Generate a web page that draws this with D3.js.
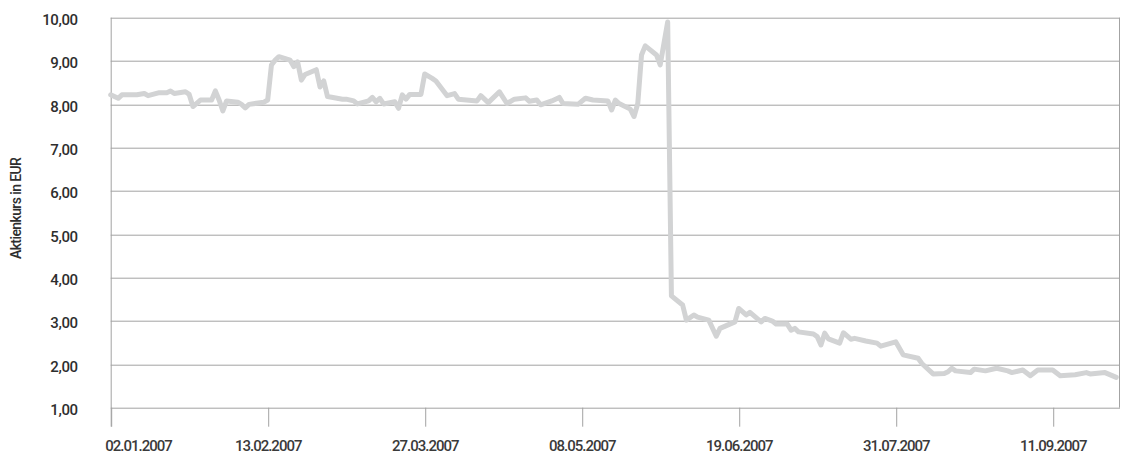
<!DOCTYPE html>
<html>
<head>
<meta charset="utf-8">
<script src="https://cdn.jsdelivr.net/npm/d3@7"></script>
<style>
	html, body {margin: 0; padding: 0; background: #fff;}
	svg {display: block;}
	svg text {font-family: Roboto, "Liberation Sans", sans-serif;}
</style>
</head>
<body>
<svg id="chart" width="1125" height="454"></svg>
<script>
// daily closing prices
const dates = [
	"02.01.2007", "04.01.2007", "05.01.2007", "09.01.2007", "11.01.2007", "12.01.2007", "15.01.2007", "17.01.2007",
	"18.01.2007", "19.01.2007", "22.01.2007", "23.01.2007", "24.01.2007", "26.01.2007", "29.01.2007", "30.01.2007",
	"31.01.2007", "01.02.2007", "02.02.2007", "05.02.2007", "06.02.2007", "07.02.2007", "08.02.2007", "12.02.2007",
	"13.02.2007", "14.02.2007", "15.02.2007", "16.02.2007", "19.02.2007", "20.02.2007", "21.02.2007", "22.02.2007",
	"23.02.2007", "26.02.2007", "27.02.2007", "28.02.2007", "01.03.2007", "05.03.2007", "06.03.2007", "08.03.2007",
	"09.03.2007", "12.03.2007", "13.03.2007", "14.03.2007", "15.03.2007", "16.03.2007", "19.03.2007", "20.03.2007",
	"21.03.2007", "22.03.2007", "23.03.2007", "26.03.2007", "27.03.2007", "29.03.2007", "30.03.2007", "02.04.2007",
	"04.04.2007", "05.04.2007", "10.04.2007", "11.04.2007", "13.04.2007", "16.04.2007", "18.04.2007", "20.04.2007",
	"23.04.2007", "24.04.2007", "26.04.2007", "27.04.2007", "30.04.2007", "02.05.2007", "03.05.2007", "07.05.2007",
	"09.05.2007", "11.05.2007", "15.05.2007", "16.05.2007", "17.05.2007", "18.05.2007", "21.05.2007", "22.05.2007",
	"23.05.2007", "24.05.2007", "25.05.2007", "28.05.2007", "29.05.2007", "31.05.2007", "01.06.2007", "04.06.2007",
	"05.06.2007", "07.06.2007", "08.06.2007", "11.06.2007", "13.06.2007", "14.06.2007", "18.06.2007", "19.06.2007",
	"21.06.2007", "22.06.2007", "25.06.2007", "26.06.2007", "28.06.2007", "29.06.2007", "02.07.2007", "03.07.2007",
	"04.07.2007", "05.07.2007", "09.07.2007", "10.07.2007", "11.07.2007", "12.07.2007", "13.07.2007", "16.07.2007",
	"17.07.2007", "19.07.2007", "20.07.2007", "23.07.2007", "26.07.2007", "27.07.2007", "31.07.2007", "02.08.2007",
	"06.08.2007", "07.08.2007", "10.08.2007", "13.08.2007", "14.08.2007", "15.08.2007", "16.08.2007", "20.08.2007",
	"21.08.2007", "24.08.2007", "27.08.2007", "30.08.2007", "31.08.2007", "03.09.2007", "05.09.2007", "07.09.2007",
	"11.09.2007", "13.09.2007", "17.09.2007", "20.09.2007", "21.09.2007", "25.09.2007", "28.09.2007"
];

const prices = [
	8.22, 8.14, 8.22, 8.22, 8.25, 8.20, 8.27, 8.27,
	8.31, 8.25, 8.29, 8.23, 7.95, 8.10, 8.10, 8.31,
	8.10, 7.85, 8.08, 8.05, 8.00, 7.92, 8.00, 8.05,
	8.10, 8.91, 9.02, 9.10, 9.02, 8.87, 8.98, 8.56,
	8.69, 8.80, 8.40, 8.54, 8.18, 8.12, 8.12, 8.08,
	8.01, 8.08, 8.16, 8.06, 8.14, 8.01, 8.06, 7.91,
	8.22, 8.12, 8.23, 8.23, 8.70, 8.60, 8.54, 8.20,
	8.25, 8.12, 8.08, 8.20, 8.04, 8.29, 8.02, 8.12,
	8.15, 8.07, 8.10, 7.99, 8.08, 8.16, 8.02, 8.00,
	8.14, 8.10, 8.08, 7.87, 8.10, 8.02, 7.89, 7.72,
	8.02, 9.14, 9.35, 9.14, 8.91, 9.90, 3.58, 3.37,
	3.02, 3.14, 3.09, 3.02, 2.65, 2.83, 2.98, 3.29,
	3.14, 3.20, 2.98, 3.06, 3.00, 2.93, 2.93, 2.79,
	2.83, 2.75, 2.70, 2.64, 2.45, 2.72, 2.59, 2.49,
	2.73, 2.58, 2.60, 2.54, 2.49, 2.42, 2.52, 2.22,
	2.14, 2.02, 1.78, 1.79, 1.83, 1.91, 1.85, 1.81,
	1.89, 1.85, 1.91, 1.85, 1.81, 1.87, 1.74, 1.87,
	1.87, 1.74, 1.76, 1.81, 1.78, 1.81, 1.70
];

const xTickLabels = ["02.01.2007", "13.02.2007", "27.03.2007", "08.05.2007", "19.06.2007", "31.07.2007", "11.09.2007"];
const yTicks = [1, 2, 3, 4, 5, 6, 7, 8, 9, 10];
const xDomain = ["02.01.2007", "29.09.2007"];
const yTitle = "Aktienkurs in EUR";

const parseDate = d3.timeParse("%d.%m.%Y");
const locale = d3.formatLocale({decimal: ",", thousands: ".", grouping: [3], currency: ["", " €"]});
const fmt = locale.format(".2f");

const margin = {top: 17.7, right: 5, bottom: 46.3, left: 110.7};
const width = 1125 - margin.left - margin.right;
const height = 454 - margin.top - margin.bottom;
const tickLen = 19;
const fontFamily = "Roboto, 'Liberation Sans', sans-serif";

const data = dates.map((d, i) => [parseDate(d), prices[i]]);

const x = d3.scaleTime()
.domain(xDomain.map(parseDate))
.range([0, width]);

const y = d3.scaleLinear()
.domain([1, 10])
.range([height, 0]);

const svg = d3.select("#chart");
const g = svg.append("g")
.attr("transform", `translate(${margin.left}, ${margin.top})`);

// horizontal grid
g.append("g")
.selectAll("line")
.data(yTicks)
.enter()
.append("line")
.attr("x1", 0)
.attr("x2", width)
.attr("y1", (d) => Math.round(y(d)) + 0.5)
.attr("y2", (d) => Math.round(y(d)) + 0.5)
.attr("stroke", "#a3a3a3")
.attr("stroke-width", 1);

// right frame
g.append("line")
.attr("x1", width - 0.5)
.attr("x2", width - 0.5)
.attr("y1", y(10))
.attr("y2", y(1))
.attr("stroke", "#a3a3a3");

// y labels
const yAxis = d3.axisLeft(y)
.tickValues(yTicks)
.tickFormat(fmt)
.tickSize(0)
.tickPadding(33);

g.append("g")
.call(yAxis)
.attr("font-family", fontFamily)
.call((sel) => sel.select(".domain").remove())
.selectAll("text")
.attr("font-size", "15px")
.attr("font-weight", 500)
.attr("letter-spacing", "-0.4px")
.attr("fill", "#2e2e2e")
.attr("dy", "0.45em");

// x axis ticks and labels
const xAxis = d3.axisBottom(x)
.tickValues(xTickLabels.map(parseDate))
.tickFormat(d3.timeFormat("%d.%m.%Y"))
.tickSizeInner(tickLen)
.tickSizeOuter(0)
.tickPadding(14);

const xg = g.append("g")
.attr("transform", `translate(0, ${height})`)
.call(xAxis)
.attr("font-family", fontFamily)
.call((sel) => sel.select(".domain").remove());

xg.selectAll("line")
.attr("stroke", "#a3a3a3")
.attr("transform", "translate(0.5, 0)");

xg.selectAll("text")
.attr("font-size", "15px")
.attr("font-weight", 500)
.attr("letter-spacing", "-1px")
.attr("fill", "#3a3a3a")
.attr("text-anchor", (d, i) => (i === 0 ? "start" : "middle"))
.attr("dx", (d, i) => (i === 0 ? -6 : 0));

// left axis line, extends down to the tick length
g.append("line")
.attr("x1", 0.5)
.attr("x2", 0.5)
.attr("y1", 0)
.attr("y2", height + tickLen)
.attr("stroke", "#a3a3a3");

// price line
const line = d3.line()
.x(([d]) => x(d))
.y(([, v]) => y(v));

g.append("path")
.datum(data)
.attr("d", line)
.attr("fill", "none")
.attr("stroke", "#d2d3d4")
.attr("stroke-width", 5)
.attr("stroke-linejoin", "round")
.attr("stroke-linecap", "round");

// y axis title
svg.append("text")
.attr("transform", `translate(21, ${margin.top + y(5.6)}) rotate(-90)`)
.attr("text-anchor", "middle")
.attr("font-family", fontFamily)
.attr("font-size", "14px")
.attr("font-weight", 500)
.attr("letter-spacing", "-0.6px")
.attr("fill", "#2e2e2e")
.text(yTitle);
</script>
</body>
</html>
